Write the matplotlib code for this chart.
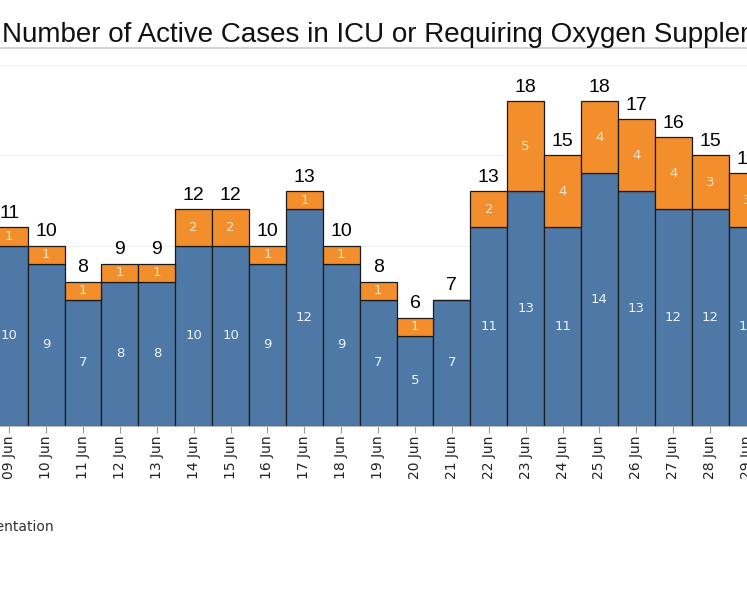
import matplotlib.pyplot as plt
import numpy as np

# --- data ---
dates = ['09 Jun', '10 Jun', '11 Jun', '12 Jun', '13 Jun', '14 Jun', '15 Jun',
         '16 Jun', '17 Jun', '18 Jun', '19 Jun', '20 Jun', '21 Jun', '22 Jun',
         '23 Jun', '24 Jun', '25 Jun', '26 Jun', '27 Jun', '28 Jun', '29 Jun']
icu = [10, 9, 7, 8, 8, 10, 10, 9, 12, 9, 7, 5, 7, 11, 13, 11, 14, 13, 12, 12, 11]
oxygen = [1, 1, 1, 1, 1, 2, 2, 1, 1, 1, 1, 1, 0, 2, 5, 4, 4, 4, 4, 3, 3]
y_grid = [5, 10, 15, 20]

BLUE = '#4e79a7'
ORANGE = '#f28e2b'

fig = plt.figure(figsize=(7.47, 5.98), dpi=100)
ax = fig.add_axes([0, (598 - 426) / 598, 1, (426 - 48) / 598])

x = np.arange(len(dates))
icu_arr = np.array(icu)
oxy_arr = np.array(oxygen)
totals = icu_arr + oxy_arr

ax.bar(x, icu_arr, width=1.0, color=BLUE, edgecolor='#1a1a1a', linewidth=0.9, zorder=2)
ax.bar(x, oxy_arr, width=1.0, bottom=icu_arr, color=ORANGE, edgecolor='#1a1a1a',
       linewidth=0.9, zorder=2)

# segment labels
for xi, b, o in zip(x, icu_arr, oxy_arr):
    ax.text(xi, b / 2, str(b), ha='center', va='center', color='#eef2f7',
            fontsize=9.5, family='DejaVu Sans', zorder=3)
    if o > 0:
        ax.text(xi, b + o / 2, str(o), ha='center', va='center', color='#fde6cc',
                fontsize=9.5, family='DejaVu Sans', zorder=3)

# totals on top
for xi, t in zip(x, totals):
    ax.text(xi, t + 0.3, str(t), ha='center', va='bottom', color='black',
            fontsize=14, family='Liberation Sans', zorder=3)

for g in y_grid:
    ax.axhline(g, color='#efefef', linewidth=0.8, zorder=0)

px = 36.97
ax.set_xlim(-9.3 / px, (747 - 9.3) / px)
ax.set_ylim(0, (426 - 48) / 18.05)

ax.set_xticks(x)
ax.set_xticklabels(dates, rotation=90, fontsize=10, family='DejaVu Sans', color='#222222')
ax.tick_params(axis='x', length=5, color='#999999', pad=2)
ax.set_yticks([])

for side in ['left', 'right']:
    ax.spines[side].set_visible(False)
ax.spines['top'].set_color('#cccccc')
ax.spines['top'].set_linewidth(1.2)
ax.spines['bottom'].set_color('#bbbbbb')

fig.text(0.003, 1 - 42 / 598, 'Number of Active Cases in ICU or Requiring Oxygen Supplementation',
         ha='left', va='baseline', fontsize=20, family='Liberation Sans', color='#111111')

fig.text(54 / 747, 1 - 527 / 598, 'Requiring Oxygen Supplementation', ha='right',
         va='center', fontsize=10, family='DejaVu Sans', color='#333333')

fig.savefig('out.png', dpi=100)
